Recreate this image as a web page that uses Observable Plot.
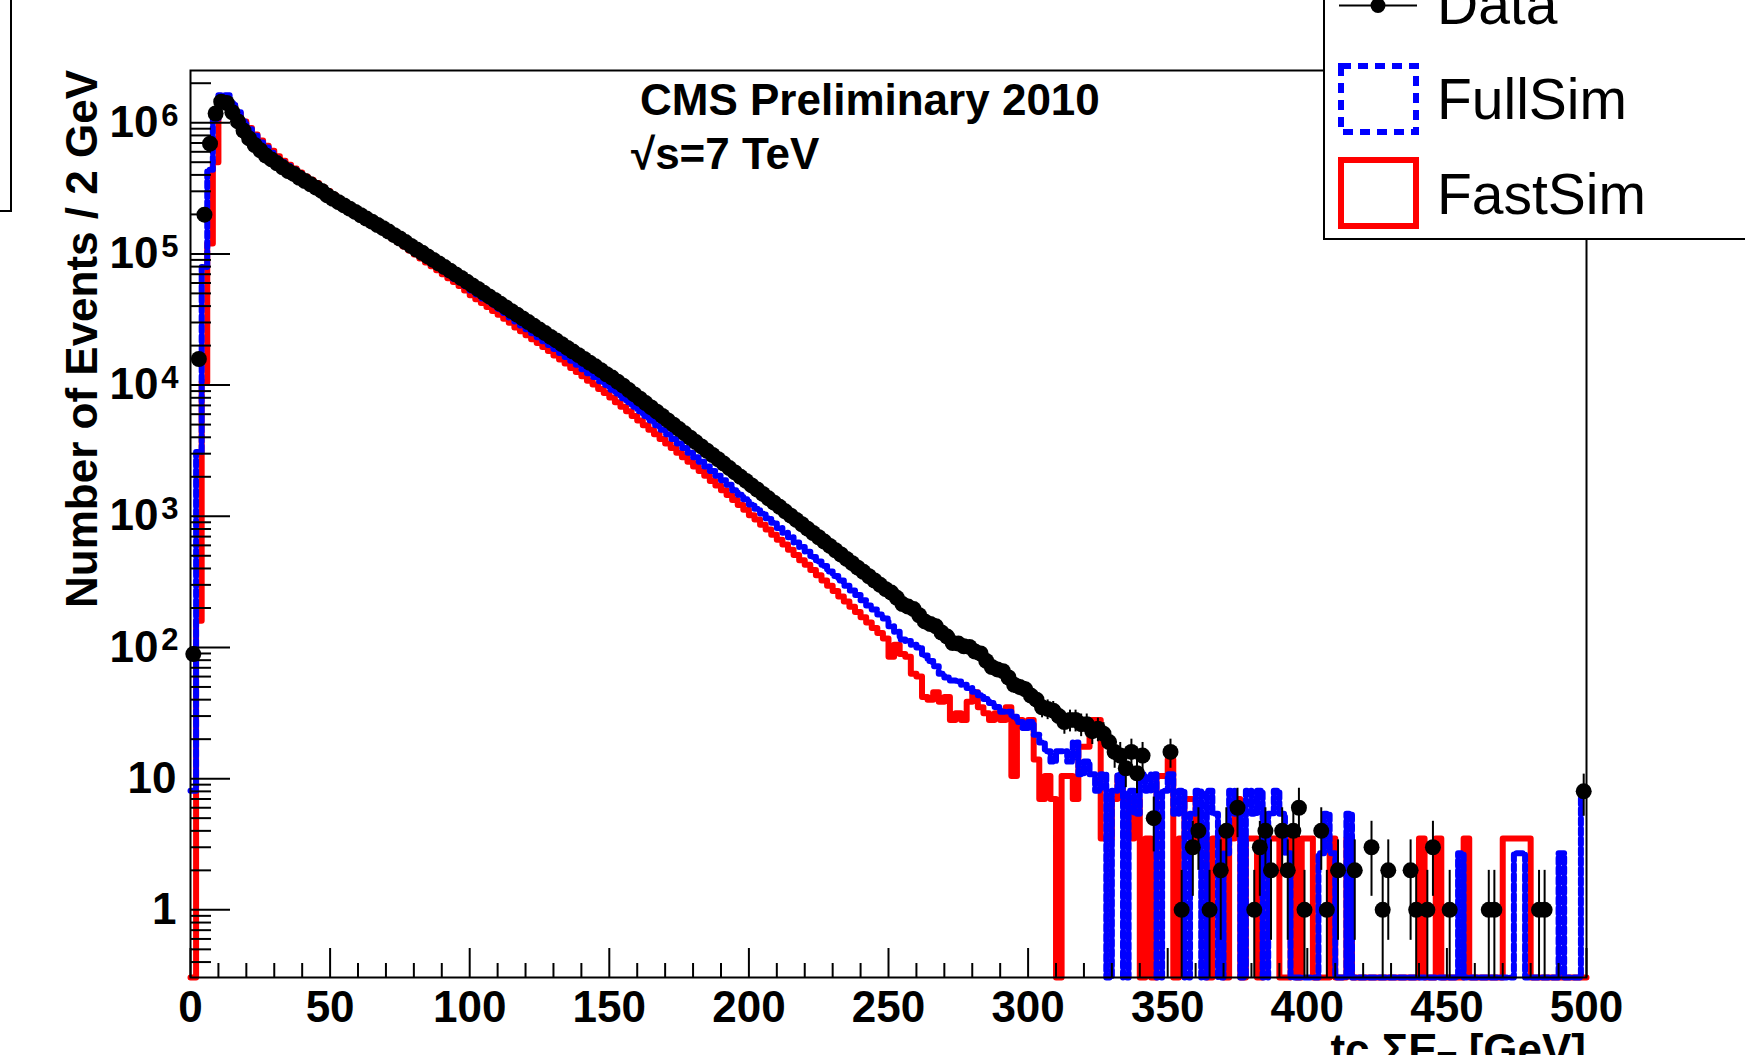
<!DOCTYPE html>
<html>
<head>
<meta charset="utf-8">
<script src="https://cdn.jsdelivr.net/npm/d3@7"></script>
<script src="https://cdn.jsdelivr.net/npm/@observablehq/plot@0.6"></script>
<style>
  html, body { margin: 0; padding: 0; background: #ffffff; }
  #chart { position: relative; width: 1745px; height: 1055px; overflow: hidden; background: #ffffff; }
  #chart svg { display: block; }
</style>
</head>
<body>
<div id="chart"></div>
<script>
// tc sum E_T distribution, 2 GeV bins from 0 to 500 GeV (250 bins)
const binWidth = 2;

// Data: event counts per bin
const dataCounts = [
  89, 15800, 199000, 692000, 1175000, 1445000, 1413000, 1202000, 1023000, 871000,
  759000, 676000, 617000, 562000, 525000, 490000, 457000, 427000, 407000, 380000,
  359000, 339000, 320000, 302000, 279000, 263000, 248000, 234000, 221000, 209000,
  197000, 186000, 176000, 166000, 157000, 148000, 139000, 131000, 123000, 115000,
  108000, 102000, 95700, 89900, 84500, 79400, 74500, 69800, 65500, 61400,
  57500, 54000, 50600, 47400, 44500, 41700, 39100, 36600, 34400, 32200,
  30200, 28300, 26500, 24900, 23300, 21900, 20500, 19200, 18000, 16900,
  15800, 14800, 13900, 13000, 12100, 11400, 10600, 9890, 9160, 8490,
  7870, 7290, 6760, 6270, 5810, 5380, 4990, 4620, 4290, 3970,
  3680, 3410, 3160, 2930, 2720, 2520, 2330, 2160, 2000, 1860,
  1720, 1600, 1480, 1370, 1270, 1180, 1090, 1010, 938, 869,
  805, 746, 692, 641, 594, 551, 511, 473, 439, 406,
  377, 349, 324, 300, 278, 262, 239, 214, 205, 196,
  176, 158, 151, 145, 130, 121, 108, 107, 102, 101,
  93, 90, 79, 71, 68, 66, 59, 52, 50, 48,
  43, 40, 35, 34, 33, 30, 27, 28, 28, 26,
  26, 23, 24, 22, 19, 16, 15, 12, 16, 11,
  15, 0, 5, 0, 0, 16, 0, 1, 0, 3,
  4, 0, 1, 0, 2, 4, 0, 6, 0, 0,
  1, 3, 4, 2, 0, 4, 2, 4, 6, 1,
  0, 0, 4, 1, 0, 2, 0, 0, 2, 0,
  0, 3, 0, 1, 2, 0, 0, 0, 2, 1,
  0, 1, 3, 0, 0, 1, 0, 0, 0, 0,
  0, 0, 1, 1, 0, 0, 0, 0, 0, 0,
  0, 1, 1, 0, 0, 0, 0, 0, 0, 8
];

// FullSim (normalised to data)
const fullSim = [
  8.1, 3090, 79400, 437000, 1050000, 1620000, 1620000, 1410000, 1200000, 1020000,
  891000, 794000, 708000, 646000, 589000, 537000, 501000, 468000, 437000, 407000,
  380000, 355000, 331000, 309000, 285000, 263000, 245000, 229000, 216000, 204000,
  191000, 178000, 168000, 158000, 148000, 140000, 132000, 123000, 116000, 108000,
  102000, 95500, 90200, 84100, 79400, 74100, 69200, 64600, 61000, 56900,
  52500, 49000, 45700, 43200, 40300, 37600, 35100, 32700, 30500, 28500,
  26600, 24800, 23200, 21600, 20200, 18800, 17600, 16400, 15300, 14300,
  13200, 12300, 11500, 10700, 10000, 9230, 8610, 7940, 7410, 6840,
  6310, 5820, 5370, 4950, 4570, 4220, 3890, 3590, 3310, 3050,
  2820, 2600, 2400, 2210, 2040, 1880, 1740, 1580, 1460, 1350,
  1230, 1140, 1050, 966, 891, 813, 750, 692, 631, 582,
  537, 490, 452, 417, 380, 351, 324, 295, 272, 251,
  229, 209, 195, 178, 166, 145, 132, 115, 112, 105,
  100, 87, 79, 72, 63, 59, 56, 55, 52, 49,
  45.9, 43.2, 40.5, 37.8, 35.1, 32.4, 32.4, 29.7, 27, 24.3,
  27, 21.6, 18.9, 16.2, 13.5, 16.2, 16.2, 13.5, 18.9, 10.8,
  13.5, 10.8, 8.1, 10.8, 0, 8.1, 10.8, 0, 8.1, 5.4,
  10.8, 8.1, 10.8, 0, 8.1, 10.8, 5.4, 8.1, 0, 5.4,
  8.1, 0, 8.1, 5.4, 0, 2.7, 8.1, 5.4, 0, 8.1,
  5.4, 8.1, 0, 5.4, 8.1, 5.4, 2.7, 0, 0, 0,
  0, 0, 2.7, 5.4, 2.7, 0, 0, 5.4, 0, 0,
  0, 0, 0, 0, 0, 0, 0, 0, 0, 0,
  0, 0, 0, 0, 0, 0, 0, 2.7, 0, 0,
  0, 0, 0, 0, 0, 0, 0, 2.7, 2.7, 0,
  0, 0, 0, 0, 0, 2.7, 0, 0, 0, 8.1
];

// FastSim (normalised to data)
const fastSim = [
  0, 160, 10500, 120000, 500000, 1480000, 1480000, 1350000, 1175000, 1023000,
  912000, 813000, 733000, 668000, 610000, 556000, 513000, 479000, 447000, 417000,
  389000, 367000, 347000, 324000, 302000, 282000, 263000, 245000, 229000, 216000,
  202000, 182000, 172000, 160000, 150000, 140000, 130000, 122000, 114000, 106000,
  98900, 92300, 86100, 80400, 75000, 70000, 65300, 61000, 56900, 52500,
  48400, 45200, 42200, 39400, 36700, 34300, 32000, 29900, 27500, 25700,
  24000, 22400, 20900, 19500, 18200, 16800, 15700, 14600, 13500, 12600,
  11700, 10800, 10100, 9330, 8710, 8040, 7410, 6840, 6310, 5820,
  5370, 4950, 4570, 4220, 3890, 3590, 3310, 3050, 2820, 2600,
  2400, 2210, 2040, 1860, 1720, 1580, 1450, 1330, 1220, 1120,
  1020, 944, 861, 794, 724, 661, 610, 556, 507, 462,
  427, 389, 355, 324, 295, 269, 245, 224, 204, 186,
  170, 155, 141, 129, 117, 85, 105, 89, 85, 63,
  60, 42, 40, 45.5, 38.5, 42, 28, 31.5, 28, 38.5,
  45.5, 35, 31.5, 28, 31.5, 28, 35, 10.5, 28, 24.5,
  28, 14, 7, 10.5, 7, 0, 10.5, 10.5, 7, 17.5,
  17.5, 28, 28, 3.5, 3.5, 7, 10.5, 7, 3.5, 7,
  0, 3.5, 0, 10.5, 10.5, 14, 0, 3.5, 7, 7,
  3.5, 3.5, 0, 3.5, 3.5, 0, 3.5, 7, 0, 3.5,
  3.5, 0, 3.5, 3.5, 3.5, 0, 0, 3.5, 0, 3.5,
  3.5, 0, 0, 0, 3.5, 0, 0, 3.5, 0, 0,
  0, 0, 0, 0, 0, 0, 0, 0, 0, 0,
  3.5, 0, 0, 3.5, 0, 0, 0, 0, 3.5, 0,
  0, 0, 0, 0, 0, 3.5, 3.5, 3.5, 3.5, 3.5,
  0, 0, 0, 0, 0, 0, 0, 0, 0, 0
];

// Axis ticks and labels
const xMajorTicks = [0, 50, 100, 150, 200, 250, 300, 350, 400, 450, 500];
const xTickLabels = ["0", "50", "100", "150", "200", "250", "300", "350", "400", "450", "500"];
const xMinorTicks = d3.range(10, 500, 10).filter(v => v % 50 !== 0);
const yPlainTicks = [1, 10];
const yPlainLabels = ["1", "10"];
const yPowerTicks = [1e2, 1e3, 1e4, 1e5, 1e6];
const yPowerExponents = ["2", "3", "4", "5", "6"];
const yMajorTicks = [1, 10, 1e2, 1e3, 1e4, 1e5, 1e6];
const yMinorTicks = [];
for (let k = -1; k <= 6; k++) for (let m = 2; m <= 9; m++) yMinorTicks.push(m * Math.pow(10, k));

const yMin = 0.305, yMax = 2.5e6;
const W = 1745, H = 1055;
const M = {left: 190, right: 159, top: 70, bottom: 78};
const frameW = W - M.left - M.right;
const frameH = H - M.top - M.bottom;
const minorTicksY = yMinorTicks.filter(v => v >= yMin && v <= yMax);

const nBins = dataCounts.length;
const edges = d3.range(nBins).map(i => i * binWidth);

// Histogram outline: left edge of each bin plus the closing right edge; empty bins sit on the axis
function stepPoints(values) {
  const pts = values.map((v, i) => ({x: edges[i], y: Math.max(v, yMin)}));
  pts.push({x: nBins * binWidth, y: Math.max(values[nBins - 1], yMin)});
  return pts;
}

const dataRows = dataCounts
  .map((n, i) => ({x: edges[i] + binWidth / 2, n}))
  .filter(d => d.n > 0);

const font = "'Liberation Sans', Arial, Helvetica, sans-serif";

const plot = Plot.plot({
  width: W,
  height: H,
  marginLeft: M.left,
  marginRight: M.right,
  marginTop: M.top,
  marginBottom: M.bottom,
  x: {domain: [0, 500], axis: null},
  y: {type: "log", domain: [yMin, yMax], axis: null},
  style: {background: "#ffffff", fontFamily: font, color: "black", overflow: "visible"},
  marks: [
    // histograms
    Plot.line(stepPoints(fastSim), {x: "x", y: "y", curve: "step-after", stroke: "#ff0000", strokeWidth: 6}),
    Plot.line(stepPoints(fullSim), {x: "x", y: "y", curve: "step-after", stroke: "#0000ff", strokeWidth: 6, strokeDasharray: "6,4"}),
    // data with statistical errors
    Plot.ruleX(dataRows, {x: "x", y1: d => Math.max(d.n - Math.sqrt(d.n), yMin), y2: d => d.n + Math.sqrt(d.n), stroke: "black", strokeWidth: 2}),
    Plot.dot(dataRows, {x: "x", y: "n", r: 8, fill: "black", stroke: "none"}),
    // frame and inward ticks
    Plot.frame({stroke: "black", strokeWidth: 2}),
    Plot.ruleX(xMinorTicks, {x: d => d, insetTop: frameH - 14, stroke: "black", strokeWidth: 2}),
    Plot.ruleX(xMajorTicks, {x: d => d, insetTop: frameH - 29, stroke: "black", strokeWidth: 2}),
    Plot.ruleY(minorTicksY, {y: d => d, insetRight: frameW - 21, stroke: "black", strokeWidth: 2}),
    Plot.ruleY(yMajorTicks, {y: d => d, insetRight: frameW - 40, stroke: "black", strokeWidth: 2}),
    // tick labels
    Plot.text(xMajorTicks, {x: d => d, text: (d, i) => xTickLabels[i], frameAnchor: "bottom", dy: 44, lineAnchor: "bottom", fontSize: 44, fontWeight: "bold", fill: "black"}),
    Plot.text(yPlainTicks, {y: d => d, text: (d, i) => yPlainLabels[i], frameAnchor: "left", dx: -14, textAnchor: "end", lineAnchor: "middle", fontSize: 44, fontWeight: "bold", fill: "black"}),
    Plot.text(yPowerTicks, {y: d => d, text: () => "10", frameAnchor: "left", dx: -32, textAnchor: "end", lineAnchor: "middle", fontSize: 44, fontWeight: "bold", fill: "black"}),
    Plot.text(yPowerTicks, {y: d => d, text: (d, i) => yPowerExponents[i], frameAnchor: "left", dx: -12, dy: 3, textAnchor: "end", lineAnchor: "bottom", fontSize: 31, fontWeight: "bold", fill: "black"})
  ]
});

document.getElementById("chart").appendChild(plot);

// Annotations, axis titles and legend drawn over the plot
const svg = d3.select(plot);
const g = svg.append("g").attr("font-family", font).attr("fill", "black").attr("text-anchor", "start");

// y-axis title
g.append("text")
  .attr("transform", "translate(97,70) rotate(-90)")
  .attr("text-anchor", "end")
  .attr("font-size", 44).attr("font-weight", "bold")
  .text("Number of Events / 2 GeV");

// x-axis title
const xt = g.append("text")
  .attr("x", 1586).attr("y", 1065)
  .attr("text-anchor", "end")
  .attr("font-size", 44).attr("font-weight", "bold");
xt.append("tspan").text("tc \u03A3E");
xt.append("tspan").attr("font-size", 31).attr("dy", 9).text("T");
xt.append("tspan").attr("dy", -9).text(" [GeV]");

// experiment label
g.append("text").attr("x", 640).attr("y", 115)
  .attr("font-size", 44).attr("font-weight", "bold")
  .text("CMS Preliminary 2010");
g.append("text").attr("x", 631).attr("y", 169)
  .attr("font-size", 44).attr("font-weight", "bold")
  .text("\u221As=7 TeV");

// neighbouring box edge at the top left
g.append("path").attr("d", "M0,211H11V-5")
  .attr("fill", "none").attr("stroke", "black").attr("stroke-width", 2);

// legend
const lg = g.append("g");
lg.append("rect").attr("x", 1324).attr("y", -20).attr("width", 500).attr("height", 259)
  .attr("fill", "white").attr("stroke", "black").attr("stroke-width", 2);
lg.append("line").attr("x1", 1339).attr("x2", 1417).attr("y1", 5.5).attr("y2", 5.5)
  .attr("stroke", "black").attr("stroke-width", 2);
lg.append("circle").attr("cx", 1378).attr("cy", 5.5).attr("r", 7.5).attr("fill", "black");
lg.append("text").attr("x", 1437).attr("y", 24).attr("font-size", 57).text("Data");
lg.append("rect").attr("x", 1341).attr("y", 66).attr("width", 75).attr("height", 66)
  .attr("fill", "none").attr("stroke", "#0000ff").attr("stroke-width", 6).attr("stroke-dasharray", "10,7");
lg.append("text").attr("x", 1437).attr("y", 119).attr("font-size", 57).text("FullSim");
lg.append("rect").attr("x", 1341).attr("y", 160).attr("width", 75).attr("height", 66)
  .attr("fill", "none").attr("stroke", "#ff0000").attr("stroke-width", 6);
lg.append("text").attr("x", 1437).attr("y", 214).attr("font-size", 57).text("FastSim");
</script>
</body>
</html>
